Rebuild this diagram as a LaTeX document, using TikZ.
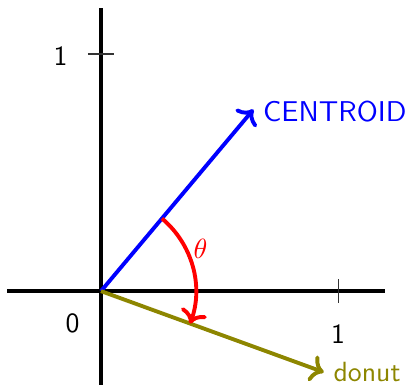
\documentclass[tikz,border=0pt]{standalone}
\usetikzlibrary{arrows.meta}
\begin{document}
\begin{tikzpicture}[x=3cm,y=3cm,
  axis/.style={line width=1.4pt,black},
  tickmark/.style={line width=0.4pt,black!80},
  vec/.style={line width=1.4pt,->},
  lbl/.style={font=\sffamily}]
\useasboundingbox (-0.426,-0.392) rectangle (1.295,1.228);
\coordinate (O) at (0,0);
\coordinate (xs) at (-0.395,0);
\coordinate (xe) at (1.198,0);
\coordinate (ys) at (0,-0.4);
\coordinate (ye) at (0,1.195);
\draw[axis] (xs) -- (xe);
\draw[axis] (ys) -- (ye);
\coordinate (xt1) at (1,-0.05);
\coordinate (xt2) at (1,0.05);
\coordinate (yt1) at (-0.055,1);
\coordinate (yt2) at (0.055,1);
\draw[tickmark] (xt1) -- (xt2);
\draw[tickmark] (yt1) -- (yt2);
\node[lbl] (xone) at (1,-0.18) {1};
\node[lbl] (yone) at (-0.17,0.99) {1};
\node[lbl] (zero) at (-0.12,-0.135) {0};
\coordinate (C) at (50:1);
\coordinate (D) at (-20:1);
\draw[vec,blue] (O) -- (C);
\node[font=\sffamily\fontsize{10.3}{12}\selectfont,blue,anchor=west] (cl) at ([yshift=-0.8pt]C) {CENTROID};
\draw[vec,olive] (O) -- (D);
\node[lbl,olive,anchor=west] (dl) at (D) {donut};
\draw[red,line width=1.4pt,->] (50:0.4) arc[start angle=50,end angle=-20,radius=0.4];
\node[red] (th) at (0.42,0.18) {$\theta$};
\end{tikzpicture}
\end{document}
